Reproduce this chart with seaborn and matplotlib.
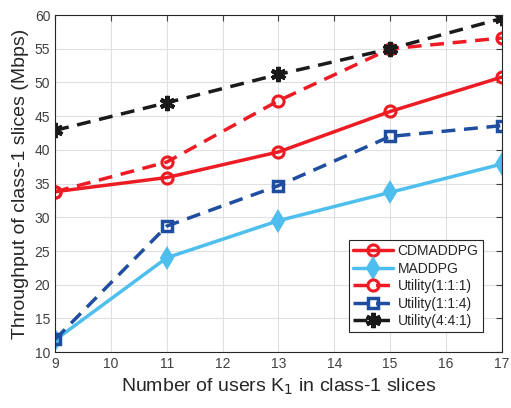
import matplotlib
matplotlib.use("Agg")
import matplotlib.pyplot as plt
import seaborn as sns
import pandas as pd

users = [9, 11, 13, 15, 17]
cdmaddpg = [33.8, 35.9, 39.7, 45.7, 50.8]
maddpg = [11.8, 24.0, 29.5, 33.7, 37.9]
util_111 = [33.8, 38.2, 47.3, 55.0, 56.6]
util_114 = [11.9, 28.7, 34.7, 42.0, 43.6]
util_441 = [42.9, 47.0, 51.2, 55.0, 59.5]
names = ["CDMADDPG", "MADDPG", "Utility(1:1:1)", "Utility(1:1:4)", "Utility(4:4:1)"]
series = [cdmaddpg, maddpg, util_111, util_114, util_441]

sns.set_style("white")
plt.rcParams['font.family'] = ['Liberation Sans', 'DejaVu Sans']

rows = []
for n, vals in zip(names, series):
    for u, v in zip(users, vals):
        rows.append({"users": u, "val": v, "method": n})
df = pd.DataFrame(rows)

styles = {
    "CDMADDPG": dict(color="#ED1C24", ls="-", marker="o", ms=8, mfc="none", mew=2.2),
    "MADDPG": dict(color="#4DBEEE", ls="-", marker="d", ms=10, mfc="#4DBEEE", mew=1.5),
    "Utility(1:1:1)": dict(color="#ED1C24", ls=(0, (4, 2.5)), marker="o", ms=8, mfc="none", mew=2.2),
    "Utility(1:1:4)": dict(color="#1F4EA0", ls=(0, (4, 2.5)), marker="s", ms=6.5, mfc="none", mew=2.5),
    "Utility(4:4:1)": dict(color="#1A1A1A", ls=(0, (4, 2.5)), marker=(6, 2, 0), ms=11, mfc="#1A1A1A", mew=3),
}

fig = plt.figure(figsize=(5.11, 4.08), dpi=100)
ax = fig.add_axes([0.108, 0.137, 0.874, 0.826])
for n in names:
    st = styles[n]
    sub = df[df.method == n]
    sns.lineplot(data=sub, x="users", y="val", ax=ax, color=st["color"], linestyle=st["ls"],
                 marker=st["marker"], markersize=st["ms"], markerfacecolor=st["mfc"],
                 markeredgecolor=st["color"], markeredgewidth=st["mew"], linewidth=2.5,
                 label=n, errorbar=None)

ax.set_xlim(9, 17)
ax.set_ylim(10, 60)
ax.set_xticks(range(9, 18))
ax.set_yticks(range(10, 61, 5))
ax.grid(True, color="#E0E0E0", linewidth=0.8)
ax.tick_params(direction="in", labelsize=10, colors="#404040", length=4, top=True, right=True)
for s in ax.spines.values():
    s.set_color("#262626")
    s.set_linewidth(0.8)
ax.set_xlabel("Number of users K$_1$ in class-1 slices", fontsize=14, color="#262626")
ax.set_ylabel("Throughput of class-1 slices (Mbps)", fontsize=14, color="#262626")
leg = ax.legend(loc="lower right", fontsize=10, fancybox=False, framealpha=1,
                edgecolor="#262626", borderpad=0.3, labelspacing=0.25, handlelength=2.9,
                handletextpad=0.3, borderaxespad=0, bbox_to_anchor=(0.957, 0.059))
leg.get_frame().set_linewidth(0.8)
fig.savefig("out.png", dpi=100)
